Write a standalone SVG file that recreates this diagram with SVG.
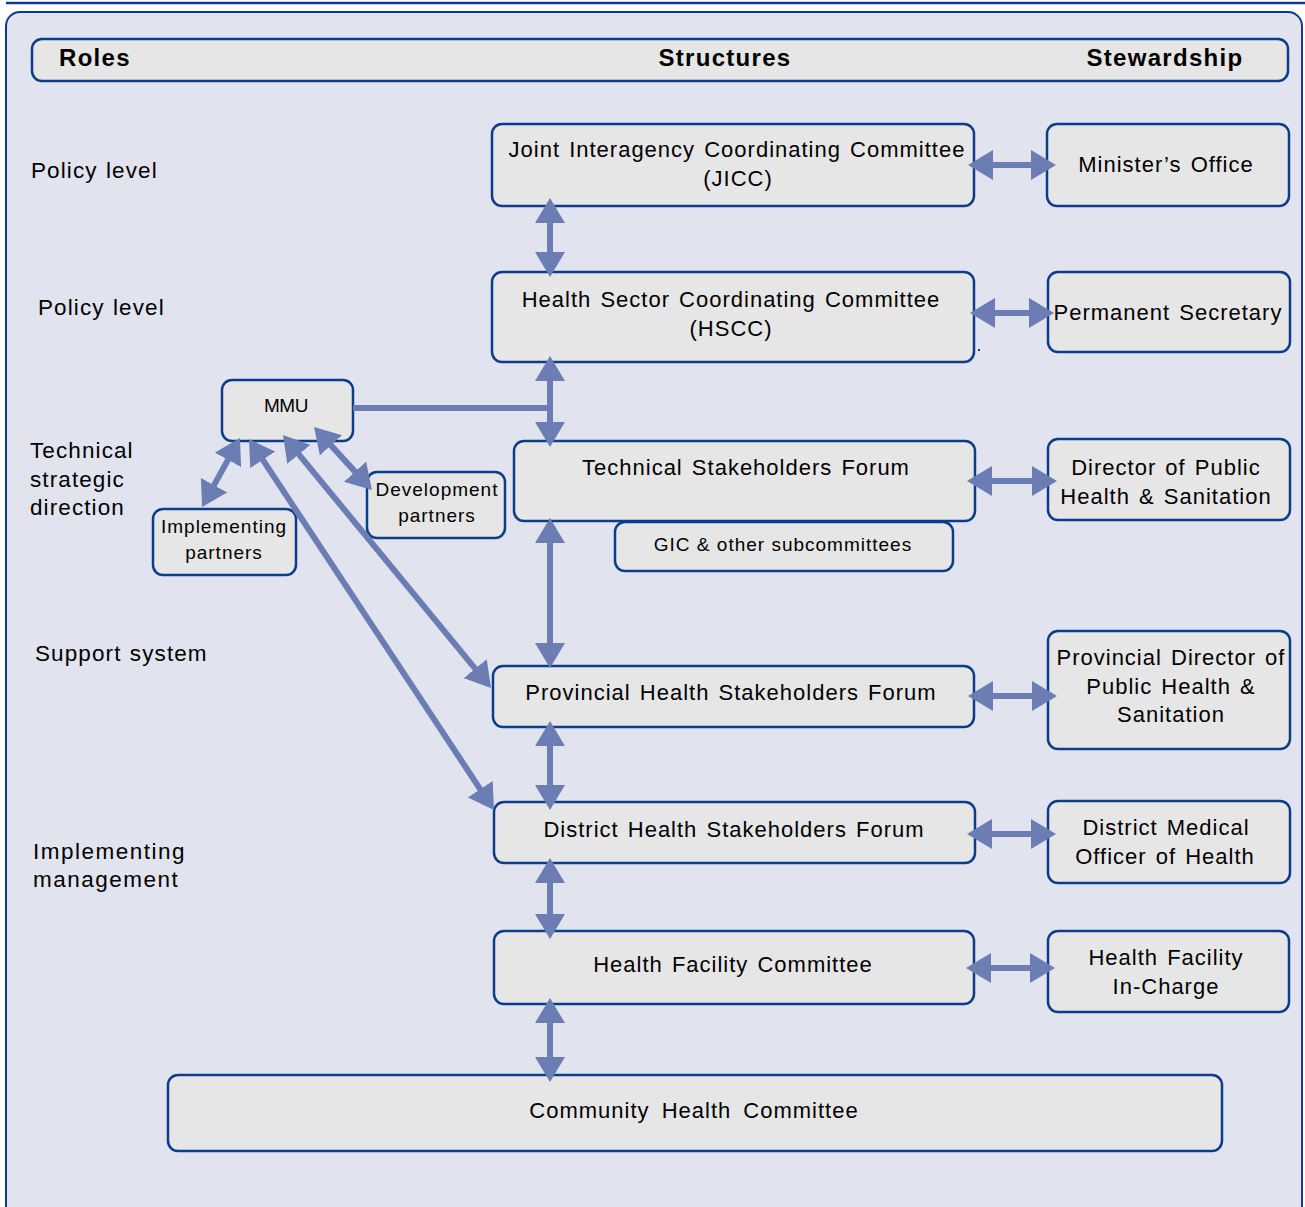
<svg xmlns="http://www.w3.org/2000/svg" width="1305" height="1207" viewBox="0 0 1305 1207">
  <style>
    .panel { fill: #e1e4ef; stroke: #0d3d8a; stroke-width: 2; }
    .box { fill: #e6e6e6; stroke: #0d3d8a; stroke-width: 2.5; }
    .t { font-family: "Liberation Sans", Arial, sans-serif; font-size: 22px; fill: #000; letter-spacing: 1px; word-spacing: 2px; }
    .r { font-family: "Liberation Sans", Arial, sans-serif; font-size: 22.5px; fill: #000; letter-spacing: 1.1px; word-spacing: 1px; }
    .s { font-family: "Liberation Sans", Arial, sans-serif; font-size: 19px; fill: #000; letter-spacing: 1px; }
    .h { font-family: "Liberation Sans", Arial, sans-serif; font-size: 24px; font-weight: bold; fill: #000; letter-spacing: 1.3px; }
    .m { text-anchor: middle; }
    .link { stroke: #6b7db3; stroke-width: 6; fill: none; }
    .dbl { marker-start: url(#head); marker-end: url(#head); }
  </style>
  <defs>
    <marker id="head" markerUnits="userSpaceOnUse" markerWidth="25" markerHeight="30" refX="2" refY="15" orient="auto-start-reverse" viewBox="0 0 25 30">
      <path d="M0,0 L25,15 L0,30 z" fill="#6b7db3"/>
    </marker>
  </defs>

  <rect width="1305" height="1207" fill="#ffffff"/>
  <line x1="6" y1="3" x2="1305" y2="3" stroke="#0d3d8a" stroke-width="2.5"/>
  <rect class="panel" x="6" y="12" width="1296" height="1210" rx="14"/>

  <!-- column header -->
  <g id="header">
    <rect class="box" x="32" y="39" width="1256" height="42" rx="10"/>
    <text class="h" x="59" y="66">Roles</text>
    <text class="h m" x="725" y="66">Structures</text>
    <text class="h m" x="1165" y="66">Stewardship</text>
  </g>

  <!-- role labels -->
  <g id="roles">
    <text class="r" x="31" y="178">Policy level</text>
    <text class="r" x="38" y="315">Policy level</text>
    <text class="r" x="30" y="458">Technical</text>
    <text class="r" x="30" y="487">strategic</text>
    <text class="r" x="30" y="515">direction</text>
    <text class="r" x="35" y="661">Support system</text>
    <text class="r" x="33" y="859" style="letter-spacing:1.5px">Implementing</text>
    <text class="r" x="33" y="887" style="letter-spacing:1.5px">management</text>
  </g>

  <!-- structures -->
  <g id="jicc">
    <rect class="box" x="492" y="124" width="482" height="82" rx="10"/>
    <text class="t m" x="737" y="157">Joint Interagency Coordinating Committee</text>
    <text class="t m" x="738" y="186">(JICC)</text>
  </g>
  <g id="hscc">
    <rect class="box" x="492" y="272" width="482" height="90" rx="10"/>
    <text class="t m" x="731" y="307">Health Sector Coordinating Committee</text>
    <text class="t m" x="731" y="336">(HSCC)</text>
    <rect x="978" y="349" width="2" height="2" fill="#0d3d8a"/>
  </g>
  <g id="mmu">
    <rect class="box" x="222" y="380" width="131" height="61" rx="10"/>
    <text class="s m" x="286" y="412" style="letter-spacing:-0.5px">MMU</text>
  </g>
  <g id="tsf">
    <rect class="box" x="514" y="441" width="461" height="80" rx="10"/>
    <text class="t m" x="746" y="475">Technical Stakeholders Forum</text>
  </g>
  <g id="gic">
    <rect class="box" x="615" y="522" width="338" height="49" rx="10"/>
    <text class="s m" x="783" y="551">GIC &amp; other subcommittees</text>
  </g>
  <g id="development-partners">
    <rect class="box" x="367" y="472" width="138" height="66" rx="10"/>
    <text class="s m" x="437" y="496">Development</text>
    <text class="s m" x="437" y="522">partners</text>
  </g>
  <g id="implementing-partners">
    <rect class="box" x="153" y="509" width="143" height="66" rx="10"/>
    <text class="s m" x="224" y="533">Implementing</text>
    <text class="s m" x="224" y="559">partners</text>
  </g>
  <g id="phsf">
    <rect class="box" x="493" y="666" width="481" height="61" rx="10"/>
    <text class="t m" x="731" y="700">Provincial Health Stakeholders Forum</text>
  </g>
  <g id="dhsf">
    <rect class="box" x="494" y="802" width="481" height="61" rx="10"/>
    <text class="t m" x="734" y="837">District Health Stakeholders Forum</text>
  </g>
  <g id="hfc">
    <rect class="box" x="494" y="931" width="480" height="73" rx="10"/>
    <text class="t m" x="733" y="972">Health Facility Committee</text>
  </g>
  <g id="chc">
    <rect class="box" x="168" y="1075" width="1054" height="76" rx="10"/>
    <text class="t m" x="694" y="1118" style="word-spacing:5px">Community Health Committee</text>
  </g>

  <!-- stewardship -->
  <g id="minister">
    <rect class="box" x="1047" y="124" width="242" height="82" rx="10"/>
    <text class="t m" x="1166" y="172">Minister’s Office</text>
  </g>
  <g id="permanent-secretary">
    <rect class="box" x="1048" y="272" width="242" height="80" rx="10"/>
    <text class="t m" x="1168" y="320">Permanent Secretary</text>
  </g>
  <g id="dphs">
    <rect class="box" x="1048" y="439" width="242" height="81" rx="10"/>
    <text class="t m" x="1166" y="475">Director of Public</text>
    <text class="t m" x="1166" y="504">Health &amp; Sanitation</text>
  </g>
  <g id="pdphs">
    <rect class="box" x="1048" y="631" width="242" height="118" rx="10"/>
    <text class="t m" x="1171" y="665">Provincial Director of</text>
    <text class="t m" x="1171" y="694">Public Health &amp;</text>
    <text class="t m" x="1171" y="722">Sanitation</text>
  </g>
  <g id="dmoh">
    <rect class="box" x="1048" y="801" width="242" height="82" rx="10"/>
    <text class="t m" x="1166" y="835">District Medical</text>
    <text class="t m" x="1165" y="864">Officer of Health</text>
  </g>
  <g id="hf-in-charge">
    <rect class="box" x="1048" y="931" width="241" height="81" rx="10"/>
    <text class="t m" x="1166" y="965">Health Facility</text>
    <text class="t m" x="1166" y="994">In-Charge</text>
  </g>

  <!-- connectors -->
  <g id="connectors">
    <line class="link" x1="353" y1="408" x2="553" y2="408"/>
    <!-- structure spine -->
    <line class="link dbl" x1="550" y1="221" x2="550" y2="254"/>
    <line class="link dbl" x1="550" y1="379" x2="550" y2="424"/>
    <line class="link dbl" x1="550" y1="541" x2="550" y2="645"/>
    <line class="link dbl" x1="550" y1="744" x2="550" y2="787"/>
    <line class="link dbl" x1="550" y1="881" x2="550" y2="916"/>
    <line class="link dbl" x1="550" y1="1021" x2="550" y2="1059"/>
    <!-- stewardship links -->
    <line class="link dbl" x1="991" y1="165" x2="1033" y2="165"/>
    <line class="link dbl" x1="993" y1="313" x2="1031" y2="313"/>
    <line class="link dbl" x1="990" y1="481" x2="1034" y2="481"/>
    <line class="link dbl" x1="991" y1="696" x2="1034" y2="696"/>
    <line class="link dbl" x1="990" y1="834" x2="1033" y2="834"/>
    <line class="link dbl" x1="989" y1="968" x2="1032" y2="968"/>
    <!-- MMU links -->
    <line class="link dbl" x1="228.9" y1="458.1" x2="213.1" y2="486.9"/>
    <line class="link dbl" x1="329.6" y1="443.9" x2="356.4" y2="473.1"/>
    <line class="link dbl" x1="297.6" y1="452.8" x2="476.4" y2="670.2"/>
    <line class="link dbl" x1="261.7" y1="458.2" x2="481.3" y2="790.8"/>
  </g>
</svg>
